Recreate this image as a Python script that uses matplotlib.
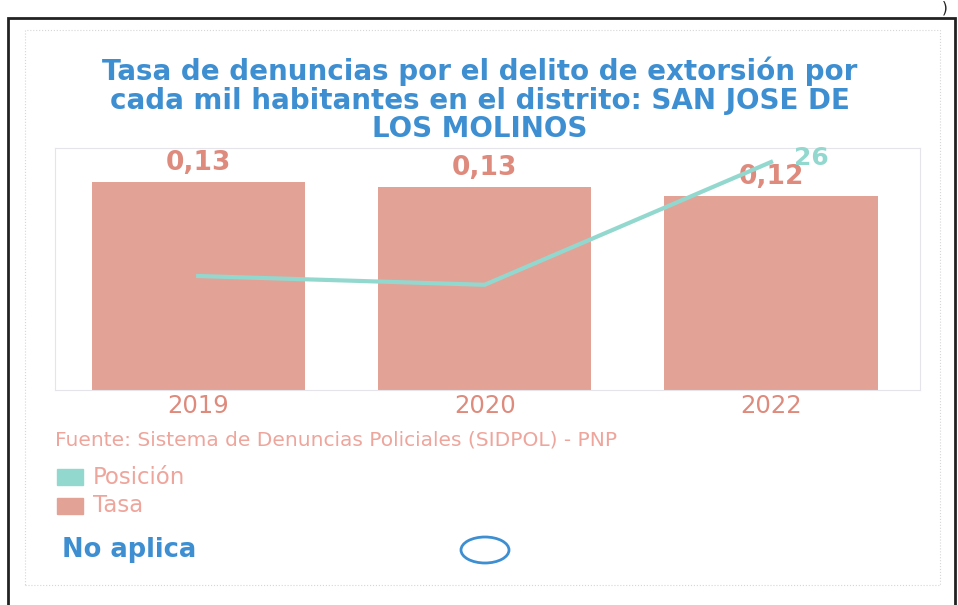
import matplotlib.pyplot as plt
from matplotlib.patches import Rectangle, Ellipse

# data
years = ['2019', '2020', '2022']
tasa = [0.133, 0.130, 0.124]
posicion = [13, 12, 26]
pos_labels = ['', '', '26']

bar_color = '#e3a296'
bar_text = '#de8a7c'
line_color = '#93d8cf'
blue = '#3d8fd1'

fig = plt.figure(figsize=(9.58, 6.05), dpi=100)
fig.patch.set_facecolor('white')

# outer scanned frame
fig.add_artist(Rectangle((8/958, -0.02), 947/958, 1 - 18/605 + 0.02, transform=fig.transFigure,
                         fill=False, edgecolor='#222222', lw=2))
# inner dotted frame
fig.add_artist(Rectangle((25/958, 1 - 585/605), 915/958, 555/605, transform=fig.transFigure,
                         fill=False, edgecolor='#d6d6d6', lw=0.8, ls=':'))
fig.text(942/958, 1 - 8/605, ')', fontsize=11, color='#222222', va='center')

fig.text(480/958, 1 - 100/605,
         'Tasa de denuncias por el delito de extorsión por\ncada mil habitantes en el distrito: SAN JOSE DE\nLOS MOLINOS',
         ha='center', va='center', fontsize=20, fontweight='bold', color=blue, linespacing=1.02)

ax = fig.add_axes([55/958, 1 - 390/605, 865/958, 242/605])
x = range(len(years))
bars = ax.bar(x, tasa, width=0.745, color=bar_color)
ax.set_xlim(-0.5, 2.52)
ax.set_ylim(0, 0.155)
for b, v in zip(bars, tasa):
    ax.text(b.get_x() + b.get_width() / 2, v + 0.004, f'{v:.2f}'.replace('.', ','),
            ha='center', va='bottom', fontsize=19, fontweight='bold', color=bar_text)
ax.set_xticks(list(x))
ax.set_xticklabels(years, fontsize=17.5, color=bar_text)
ax.tick_params(length=0, pad=3)
ax.set_yticks([])
for s in ax.spines.values():
    s.set_color('#e4e4ea')
    s.set_linewidth(0.8)

ax2 = ax.twinx()
ax2.plot(x, posicion, color=line_color, lw=3)
ax2.set_ylim(0, 27.6)
ax2.set_yticks([])
for xi, yv, lab in zip(x, posicion, pos_labels):
    if lab:
        ax2.text(xi + 0.08, yv + 0.5, lab, ha='left', va='center', fontsize=18,
                 fontweight='bold', color=line_color)
for s in ax2.spines.values():
    s.set_visible(False)

fig.text(55/958, 1 - 440/605, 'Fuente: Sistema de Denuncias Policiales (SIDPOL) - PNP',
         fontsize=14.5, color='#eea59c', va='center')

# legend
for yc, col, lab in [(477, line_color, 'Posición'), (506, bar_color, 'Tasa')]:
    fig.add_artist(Rectangle((57/958, 1 - (yc + 8)/605), 26/958, 16/605,
                             transform=fig.transFigure, color=col))
    fig.text(93/958, 1 - yc/605, lab, fontsize=16.5, color='#eea59c', va='center')

fig.text(62/958, 1 - 550/605, 'No aplica', fontsize=18.5, fontweight='bold', color=blue, va='center')
fig.add_artist(Ellipse((485/958, 1 - 550/605), 48/958, 26/605, transform=fig.transFigure,
                       fill=False, edgecolor=blue, lw=2))

fig.savefig('out.png', dpi=100)
